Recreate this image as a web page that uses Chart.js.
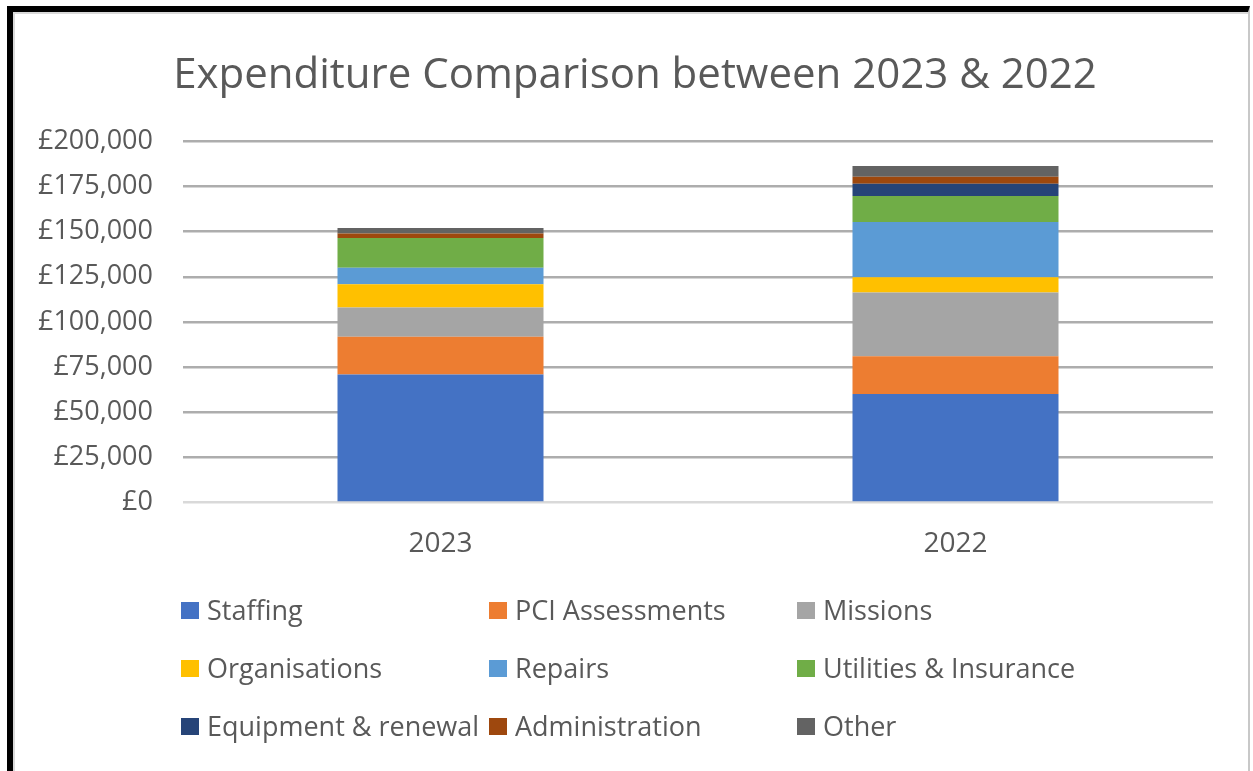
<!DOCTYPE html>
<html>
<head>
<meta charset="utf-8">
<script src="https://cdn.jsdelivr.net/npm/chart.js@4/dist/chart.umd.min.js"></script>
<style>
	html, body { margin: 0; padding: 0; background: #fff; }
	body { width: 1253px; height: 771px; position: relative; overflow: hidden; font-family: 'Open Sans', sans-serif; }
	#frame {
		position: absolute; left: 7px; top: 6px; width: 1235px; height: 780px;
		border-top: 6px solid #000; border-left: 6px solid #000; border-right: 2px solid #c8c8c8;
		box-shadow: inset 2px 2px 0 #d9d9d9;
	}
	#expChart { position: absolute; left: 0; top: 0; }
	#legend {
		position: absolute; left: 181px; top: 594px;
		display: grid; grid-template-columns: 308px 308px 308px; grid-auto-rows: 58px;
	}
	.lg-item { display: flex; align-items: flex-start; color: #595959; font-size: 27px; line-height: 32px; white-space: nowrap; }
	.lg-box { width: 18px; height: 17px; margin-top: 8px; margin-right: 8px; flex: none; }
</style>
</head>
<body>
<div id="frame"></div>
<canvas id="expChart" width="1253" height="600"></canvas>
<div id="legend"></div>
<script>
'use strict';

// 차트 데이터
const categories = ['2023', '2022'];
const staffing = [70900, 60100];
const pciAssessments = [20900, 20900];
const missions = [16200, 35300];
const organisations = [12800, 8500];
const repairs = [9200, 30500];
const utilities = [16500, 14400];
const equipment = [0, 6900];
const administration = [2500, 3800];
const other = [3000, 6000];

const seriesNames = ['Staffing', 'PCI Assessments', 'Missions', 'Organisations', 'Repairs', 'Utilities & Insurance', 'Equipment & renewal', 'Administration', 'Other'];
const seriesValues = [staffing, pciAssessments, missions, organisations, repairs, utilities, equipment, administration, other];
const seriesColors = ['#4472C4', '#ED7D31', '#A5A5A5', '#FFC000', '#5B9BD5', '#70AD47', '#264478', '#9E480E', '#636363'];

const textColor = '#595959';
const gridColor = '#ADADAD';
const zeroLineColor = '#D9D9D9';

// 차트 생성
function initExpChart() {
	const exp_chart = document.getElementById('expChart');

	const datasets = seriesNames.map((name, i) => ({
		label: name,
		data: seriesValues[i],
		backgroundColor: seriesColors[i],
		borderWidth: 0,
		barPercentage: 0.4,
		categoryPercentage: 1
	}));

	const chart = new Chart(exp_chart, {
		type: 'bar',
		data: {
			labels: categories,
			datasets: datasets
		},
		options: {
			responsive: false,
			animation: false,
			layout: {
				padding: { left: 38, right: 21, top: 0, bottom: 22 }
			},
			plugins: {
				legend: { display: false },
				tooltip: { enabled: false },
				title: {
					display: true,
					text: 'Expenditure Comparison between 2023 & 2022',
					color: textColor,
					font: { family: 'Open Sans', size: 42, weight: 'normal' },
					padding: { top: 51, bottom: 40 }
				}
			},
			scales: {
				x: {
					stacked: true,
					grid: { display: false },
					border: { display: false },
					ticks: {
						color: textColor,
						font: { family: 'Open Sans', size: 28 },
						padding: 17
					}
				},
				y: {
					stacked: true,
					min: 0,
					max: 200000,
					afterFit: function(scale) { scale.width = 145; },
					grid: {
						color: ctx => ctx.tick && ctx.tick.value === 0 ? zeroLineColor : gridColor,
						lineWidth: 2.5,
						drawTicks: false
					},
					border: { display: false },
					ticks: {
						stepSize: 25000,
						color: textColor,
						font: { family: 'Open Sans', size: 27 },
						padding: 30,
						callback: value => '£' + value.toLocaleString('en-GB')
					}
				},
				// 오른쪽 여백용 빈 축 (제목 가운데 정렬)
				yRight: {
					position: 'right',
					afterFit: function(scale) { scale.width = 19; },
					grid: { display: false },
					border: { display: false },
					ticks: { display: false }
				}
			}
		}
	});

	// 범례 (3열 그리드)
	const legendBox = document.getElementById('legend');
	chart.options.plugins.legend.labels.generateLabels(chart).forEach(item => {
		const el = document.createElement('div');
		el.className = 'lg-item';
		const box = document.createElement('span');
		box.className = 'lg-box';
		box.style.background = item.fillStyle;
		const txt = document.createElement('span');
		txt.textContent = item.text;
		el.appendChild(box);
		el.appendChild(txt);
		legendBox.appendChild(el);
	});
}

document.addEventListener('DOMContentLoaded', function() {
	initExpChart();
});
</script>
</body>
</html>
